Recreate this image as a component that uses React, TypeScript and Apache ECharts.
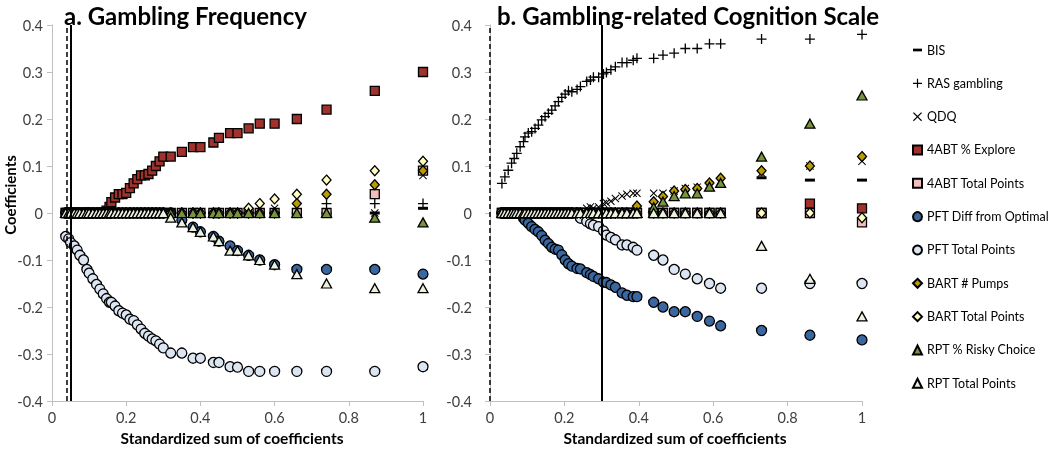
import React, { useEffect, useRef } from "react";
import * as echarts from "echarts";

// ---------- DATA ----------
const seriesNames = [
  "BIS",
  "RAS gambling",
  "QDQ",
  "4ABT % Explore",
  "4ABT Total Points",
  "PFT Diff from Optimal",
  "PFT Total Points",
  "BART # Pumps",
  "BART Total Points",
  "RPT % Risky Choice",
  "RPT Total Points",
];

const panelTitles = ["a. Gambling Frequency", "b. Gambling-related Cognition Scale"];
const xAxisTitle = "Standardized sum of coefficients";
const yAxisTitle = "Coefficients";

// Panel a: x positions (standardized sum of coefficients)
const xA = [0.037, 0.045, 0.05, 0.06, 0.068, 0.075, 0.085, 0.094, 0.1, 0.11, 0.12, 0.129, 0.138, 0.147, 0.155,
  0.16, 0.17, 0.18, 0.19, 0.2, 0.21, 0.22, 0.23, 0.24, 0.25, 0.26, 0.27, 0.28, 0.29, 0.3,
  0.32, 0.35, 0.38, 0.4, 0.435, 0.45, 0.48, 0.5, 0.53, 0.56, 0.6, 0.66, 0.74, 0.87, 1.0];

const bisA = [0, 0, 0, 0, 0, 0, 0, 0, 0, 0, 0, 0, 0, 0, 0,
  0, 0, 0, 0, 0, 0, 0, 0, 0, 0, 0, 0, 0, 0, 0,
  0, 0, 0, 0, 0, 0, 0, 0, 0, 0, 0, 0, 0, 0, 0.01];
const rasA = [0, 0, 0, 0, 0, 0, 0, 0, 0, 0, 0, 0, 0, 0, 0,
  0, 0, 0, 0, 0, 0, 0, 0, 0, 0, 0, 0, 0, 0, 0,
  0, 0, 0, 0, 0, 0, 0, 0, 0, 0, 0, 0, 0.02, 0.02, 0.02];
const qdqA = [0, 0, 0, 0, 0, 0, 0, 0, 0, 0, 0, 0, 0, 0, 0,
  0, 0, 0, 0, 0, 0, 0, 0, 0, 0, 0, 0, 0, 0, 0,
  0, 0, 0, 0, 0, 0, 0, 0, 0, 0, 0.01, 0, 0, 0, 0.08];
const exploreA = [0, 0, 0, 0, 0, 0, 0, 0, 0, 0, 0, 0, 0, 0.005, 0.013,
  0.023, 0.033, 0.04, 0.04, 0.043, 0.053, 0.063, 0.072, 0.08, 0.08, 0.083, 0.09, 0.1, 0.11, 0.12,
  0.12, 0.13, 0.14, 0.14, 0.15, 0.16, 0.17, 0.17, 0.18, 0.19, 0.19, 0.2, 0.22, 0.26, 0.3];
const abtPointsA = [0, 0, 0, 0, 0, 0, 0, 0, 0, 0, 0, 0, 0, 0, 0,
  0, 0, 0, 0, 0, 0, 0, 0, 0, 0, 0, 0, 0, 0, 0,
  0, 0, 0, 0, 0, 0, 0, 0, 0, 0, 0, 0, 0, 0.04, 0.09];
const pftDiffA = [0, 0, 0, 0, 0, 0, 0, 0, 0, 0, 0, 0, 0, 0, 0,
  0, 0, 0, 0, 0, 0, 0, 0, 0, 0, 0, 0, 0, 0, 0,
  0, -0.015, -0.03, -0.04, -0.05, -0.06, -0.07, -0.08, -0.09, -0.1, -0.11, -0.12, -0.12, -0.12, -0.13];
const pftPointsA = [-0.05, -0.055, -0.063, -0.07, -0.079, -0.09, -0.1, -0.12, -0.128, -0.14, -0.152, -0.162, -0.172, -0.182, -0.19,
  -0.19, -0.198, -0.208, -0.213, -0.217, -0.226, -0.229, -0.238, -0.247, -0.256, -0.262, -0.268, -0.272, -0.279, -0.287,
  -0.298, -0.298, -0.309, -0.309, -0.318, -0.318, -0.327, -0.328, -0.337, -0.337, -0.337, -0.337, -0.337, -0.337, -0.327];
const pumpsA = [0, 0, 0, 0, 0, 0, 0, 0, 0, 0, 0, 0, 0, 0, 0,
  0, 0, 0, 0, 0, 0, 0, 0, 0, 0, 0, 0, 0, 0, 0,
  0, 0, 0, 0, 0, 0, 0, 0, 0, 0, 0, 0.02, 0.04, 0.06, 0.09];
const bartPointsA = [0, 0, 0, 0, 0, 0, 0, 0, 0, 0, 0, 0, 0, 0, 0,
  0, 0, 0, 0, 0, 0, 0, 0, 0, 0, 0, 0, 0, 0, 0,
  0, 0, 0, 0, 0, 0, 0, 0, 0.01, 0.02, 0.03, 0.04, 0.07, 0.09, 0.11];
const riskyA = [0, 0, 0, 0, 0, 0, 0, 0, 0, 0, 0, 0, 0, 0, 0,
  0, 0, 0, 0, 0, 0, 0, 0, 0, 0, 0, 0, 0, 0, 0,
  0, 0, 0, 0, 0, 0, 0, 0, 0, 0, 0, 0, 0, -0.01, -0.02];
const rptPointsA = [0, 0, 0, 0, 0, 0, 0, 0, 0, 0, 0, 0, 0, 0, 0,
  0, 0, 0, 0, 0, 0, 0, 0, 0, 0, 0, 0, 0, 0, 0,
  -0.01, -0.02, -0.03, -0.04, -0.05, -0.06, -0.08, -0.08, -0.09, -0.1, -0.11, -0.13, -0.15, -0.16, -0.16];

// Panel b
const xB = [0.032, 0.04, 0.049, 0.058, 0.065, 0.072, 0.081, 0.09, 0.094, 0.103, 0.112, 0.121, 0.13, 0.139, 0.148,
  0.157, 0.166, 0.175, 0.184, 0.193, 0.202, 0.211, 0.22, 0.234, 0.243, 0.26, 0.27, 0.278, 0.292, 0.305,
  0.313, 0.325, 0.337, 0.355, 0.368, 0.385, 0.395, 0.44, 0.465, 0.495, 0.525, 0.557, 0.59, 0.62, 0.73,
  0.86, 1.0];

const bisB = [0, 0, 0, 0, 0, 0, 0, 0, 0, 0, 0, 0, 0, 0, 0,
  0, 0, 0, 0, 0, 0, 0, 0, 0, 0, 0, 0, 0, 0, 0,
  0, 0, 0, 0, 0, 0, 0, 0, 0, 0, 0, 0, 0, 0, 0.075,
  0.07, 0.07];
const rasB = [0.063, 0.077, 0.091, 0.106, 0.116, 0.127, 0.141, 0.152, 0.162, 0.17, 0.173, 0.18, 0.187, 0.198, 0.205,
  0.212, 0.219, 0.228, 0.237, 0.246, 0.253, 0.26, 0.258, 0.263, 0.269, 0.28, 0.283, 0.289, 0.289, 0.296,
  0.299, 0.305, 0.311, 0.32, 0.32, 0.325, 0.329, 0.329, 0.336, 0.34, 0.35, 0.35, 0.36, 0.36, 0.37,
  0.37, 0.38];
const qdqB = [0, 0, 0, 0, 0, 0, 0, 0, 0, 0, 0, 0, 0, 0, 0,
  0, 0, 0, 0, 0, 0, 0, 0, 0, 0, 0.01, 0.013, 0.01, 0.013, 0.02,
  0.022, 0.025, 0.031, 0.036, 0.04, 0.042, 0.042, 0.042, 0.042, 0.047, 0.052, 0.055, 0.06, 0.068, 0.085,
  0.1, 0.11];
const exploreB = [0, 0, 0, 0, 0, 0, 0, 0, 0, 0, 0, 0, 0, 0, 0,
  0, 0, 0, 0, 0, 0, 0, 0, 0, 0, 0, 0, 0, 0, 0,
  0, 0, 0, 0, 0, 0, 0, 0, 0, 0, 0, 0, 0, 0, 0,
  0.02, 0.01];
const abtPointsB = [0, 0, 0, 0, 0, 0, 0, 0, 0, 0, 0, 0, 0, 0, 0,
  0, 0, 0, 0, 0, 0, 0, 0, 0, 0, 0, 0, 0, 0, 0,
  0, 0, 0, 0, 0, 0, 0, 0, 0, 0, 0, 0, 0, 0, 0,
  0, -0.02];
const pftDiffB = [0, 0, 0, 0, 0, 0, 0, -0.011, -0.015, -0.022, -0.029, -0.035, -0.04, -0.048, -0.058,
  -0.065, -0.073, -0.077, -0.079, -0.089, -0.1, -0.108, -0.113, -0.118, -0.119, -0.127, -0.131, -0.135, -0.14, -0.147,
  -0.148, -0.153, -0.158, -0.17, -0.175, -0.178, -0.178, -0.19, -0.2, -0.21, -0.21, -0.22, -0.23, -0.24, -0.25,
  -0.26, -0.27];
const pftPointsB = [0, 0, 0, 0, 0, 0, 0, 0, 0, 0, 0, 0, 0, 0, 0,
  0, 0, 0, 0, 0, 0, 0, 0, 0, -0.011, -0.018, -0.023, -0.026, -0.029, -0.038,
  -0.047, -0.052, -0.057, -0.068, -0.068, -0.073, -0.079, -0.09, -0.1, -0.12, -0.13, -0.14, -0.15, -0.16, -0.16,
  -0.15, -0.15];
const pumpsB = [0, 0, 0, 0, 0, 0, 0, 0, 0, 0, 0, 0, 0, 0, 0,
  0, 0, 0, 0, 0, 0, 0, 0, 0, 0, 0, 0, 0, 0, 0,
  0, 0, 0, 0, 0, 0, 0.015, 0.024, 0.035, 0.047, 0.05, 0.052, 0.064, 0.074, 0.09,
  0.1, 0.12];
const bartPointsB = [0, 0, 0, 0, 0, 0, 0, 0, 0, 0, 0, 0, 0, 0, 0,
  0, 0, 0, 0, 0, 0, 0, 0, 0, 0, 0, 0, 0, 0, 0,
  0, 0, 0, 0, 0, 0, 0, 0, 0, 0, 0, 0, 0, 0, 0,
  0, -0.01];
const riskyB = [0, 0, 0, 0, 0, 0, 0, 0, 0, 0, 0, 0, 0, 0, 0,
  0, 0, 0, 0, 0, 0, 0, 0, 0, 0, 0, 0, 0, 0, 0,
  0, 0, 0, 0, 0, 0, 0, 0.012, 0.024, 0.036, 0.042, 0.042, 0.056, 0.064, 0.12,
  0.19, 0.25];
const rptPointsB = [0, 0, 0, 0, 0, 0, 0, 0, 0, 0, 0, 0, 0, 0, 0,
  0, 0, 0, 0, 0, 0, 0, 0, 0, 0, 0, 0, 0, 0, 0,
  0, 0, 0, 0, 0, 0, 0, 0, 0, 0, 0, 0, 0, 0, -0.07,
  -0.14, -0.22];

// reference lines (x positions)
const dashedLineX = [0.036, 0.004];
const solidLineX = [0.05, 0.3];

// ---------- STYLES ----------
const PLUS = "path://M4.35,0h1.3v4.35h4.35v1.3h-4.35v4.35h-1.3v-4.35h-4.35v-1.3h4.35z";
const CROSS = "path://M0.9,0L5,4.1L9.1,0L10,0.9L5.9,5L10,9.1L9.1,10L5,5.9L0.9,10L0,9.1L4.1,5L0,0.9z";
const DASH = "path://M0,0h10v3h-10z";

const markerStyles: any[] = [
  { symbol: DASH, size: [10, 3], color: "#000", border: 0 },
  { symbol: PLUS, size: 10, color: "#000", border: 0 },
  { symbol: CROSS, size: 8, color: "#000", border: 0 },
  { symbol: "rect", size: 9, color: "#A0322E", border: 1.3 },
  { symbol: "rect", size: 9, color: "#F2BDBD", border: 1.3 },
  { symbol: "circle", size: 10, color: "#3A67A0", border: 1.3 },
  { symbol: "circle", size: 10, color: "#DCE6F2", border: 1.3 },
  { symbol: "diamond", size: [9, 10], color: "#B89C00", border: 1.3 },
  { symbol: "diamond", size: [9, 10], color: "#FFFFBF", border: 1.3 },
  { symbol: "triangle", size: [10, 9], color: "#77933C", border: 1.3 },
  { symbol: "triangle", size: [10, 9], color: "#EBF1DE", border: 1.3 },
];

const FONT = "Lato";

function fmt(v: number) {
  const r = Math.round(v * 10) / 10;
  return r === 0 ? "0" : String(r);
}

function buildPanel(xs: number[], ys: number[][], idx: number) {
  const list: any[] = ys.map((vals, i) => {
    const st = markerStyles[i];
    return {
      type: "scatter",
      name: seriesNames[i],
      xAxisIndex: idx,
      yAxisIndex: idx,
      data: xs.map((x, j) => [x, vals[j]]),
      symbol: st.symbol,
      symbolSize: st.size,
      itemStyle: { color: st.color, borderColor: "#000", borderWidth: st.border, opacity: 1 },
      emphasis: { disabled: true },
      silent: true,
    };
  });
  list.push({
    type: "scatter",
    name: "refLines" + idx,
    xAxisIndex: idx,
    yAxisIndex: idx,
    data: [],
    z: 5,
    silent: true,
    markLine: {
      silent: true,
      symbol: "none",
      animation: false,
      label: { show: false },
      data: [
        { xAxis: dashedLineX[idx], lineStyle: { color: "#000", width: 1.5, type: [5, 3] } },
        { xAxis: solidLineX[idx], lineStyle: { color: "#000", width: 2, type: "solid" } },
      ],
    },
  });
  return list;
}

export default function App() {
  const ref = useRef<HTMLDivElement>(null);
  useEffect(() => {
    if (!ref.current) return;
    const chart = echarts.init(ref.current, undefined, { renderer: "svg" });
    const seriesA = buildPanel(xA, [bisA, rasA, qdqA, exploreA, abtPointsA, pftDiffA, pftPointsA, pumpsA, bartPointsA, riskyA, rptPointsA], 0);
    const seriesB = buildPanel(xB, [bisB, rasB, qdqB, exploreB, abtPointsB, pftDiffB, pftPointsB, pumpsB, bartPointsB, riskyB, rptPointsB], 1);

    const grids = [
      { left: 52, top: 25, width: 371, height: 376 },
      { left: 490, top: 25, width: 372, height: 376 },
    ];
    const axisColor = "#BFBFBF";
    const xAxes = [0, 1].map((i) => ({
      type: "value",
      gridIndex: i,
      min: 0,
      max: 1,
      interval: 0.2,
      axisLine: { show: true, onZero: false, lineStyle: { color: axisColor, width: 1 } },
      axisTick: { show: true, length: 5, lineStyle: { color: axisColor } },
      splitLine: { show: false },
      axisLabel: { formatter: (v: number) => String(Math.round(v * 10) / 10), color: "#404040", fontSize: 14.5, fontFamily: FONT, margin: 9 },
    }));
    const yAxes = [0, 1].map((i) => ({
      type: "value",
      gridIndex: i,
      min: -0.4,
      max: 0.4,
      interval: 0.1,
      axisLine: { show: true, onZero: false, lineStyle: { color: axisColor, width: 1 } },
      axisTick: { show: true, length: 5, lineStyle: { color: axisColor } },
      splitLine: { show: false },
      axisLabel: { formatter: fmt, color: "#404040", fontSize: 14.5, fontFamily: FONT, margin: i === 0 ? 9 : 18 },
    }));

    chart.setOption({
      animation: false,
      textStyle: { fontFamily: FONT },
      grid: grids,
      xAxis: xAxes,
      yAxis: yAxes,
      legend: {
        orient: "vertical",
        left: 907,
        top: 38,
        itemWidth: 9,
        itemHeight: 9,
        itemGap: 19.33,
        selectedMode: false,
        data: seriesNames,
        textStyle: { fontSize: 12.5, fontFamily: FONT, color: "#000", lineHeight: 14 },
      },
      graphic: [
        { type: "text", x: 64, y: 15, style: { text: panelTitles[0], font: `bold 24px ${FONT}`, fill: "#000", verticalAlign: "middle" } },
        { type: "text", x: 497, y: 15, style: { text: panelTitles[1], font: `bold 24px ${FONT}`, fill: "#000", verticalAlign: "middle" } },
        { type: "text", x: 232, y: 438, style: { text: xAxisTitle, font: `bold 15.5px ${FONT}`, fill: "#000", align: "center", verticalAlign: "middle" } },
        { type: "text", x: 675, y: 438, style: { text: xAxisTitle, font: `bold 15.5px ${FONT}`, fill: "#000", align: "center", verticalAlign: "middle" } },
        { type: "text", x: 10, y: 195, rotation: Math.PI / 2, style: { text: yAxisTitle, font: `bold 15px ${FONT}`, fill: "#000", align: "center", verticalAlign: "middle" } },
      ],
      series: [...seriesA, ...seriesB],
    });
    return () => chart.dispose();
  }, []);
  return <div ref={ref} style={{ position: "fixed", left: 0, top: 0, width: 1050, height: 450 }} />;
}
